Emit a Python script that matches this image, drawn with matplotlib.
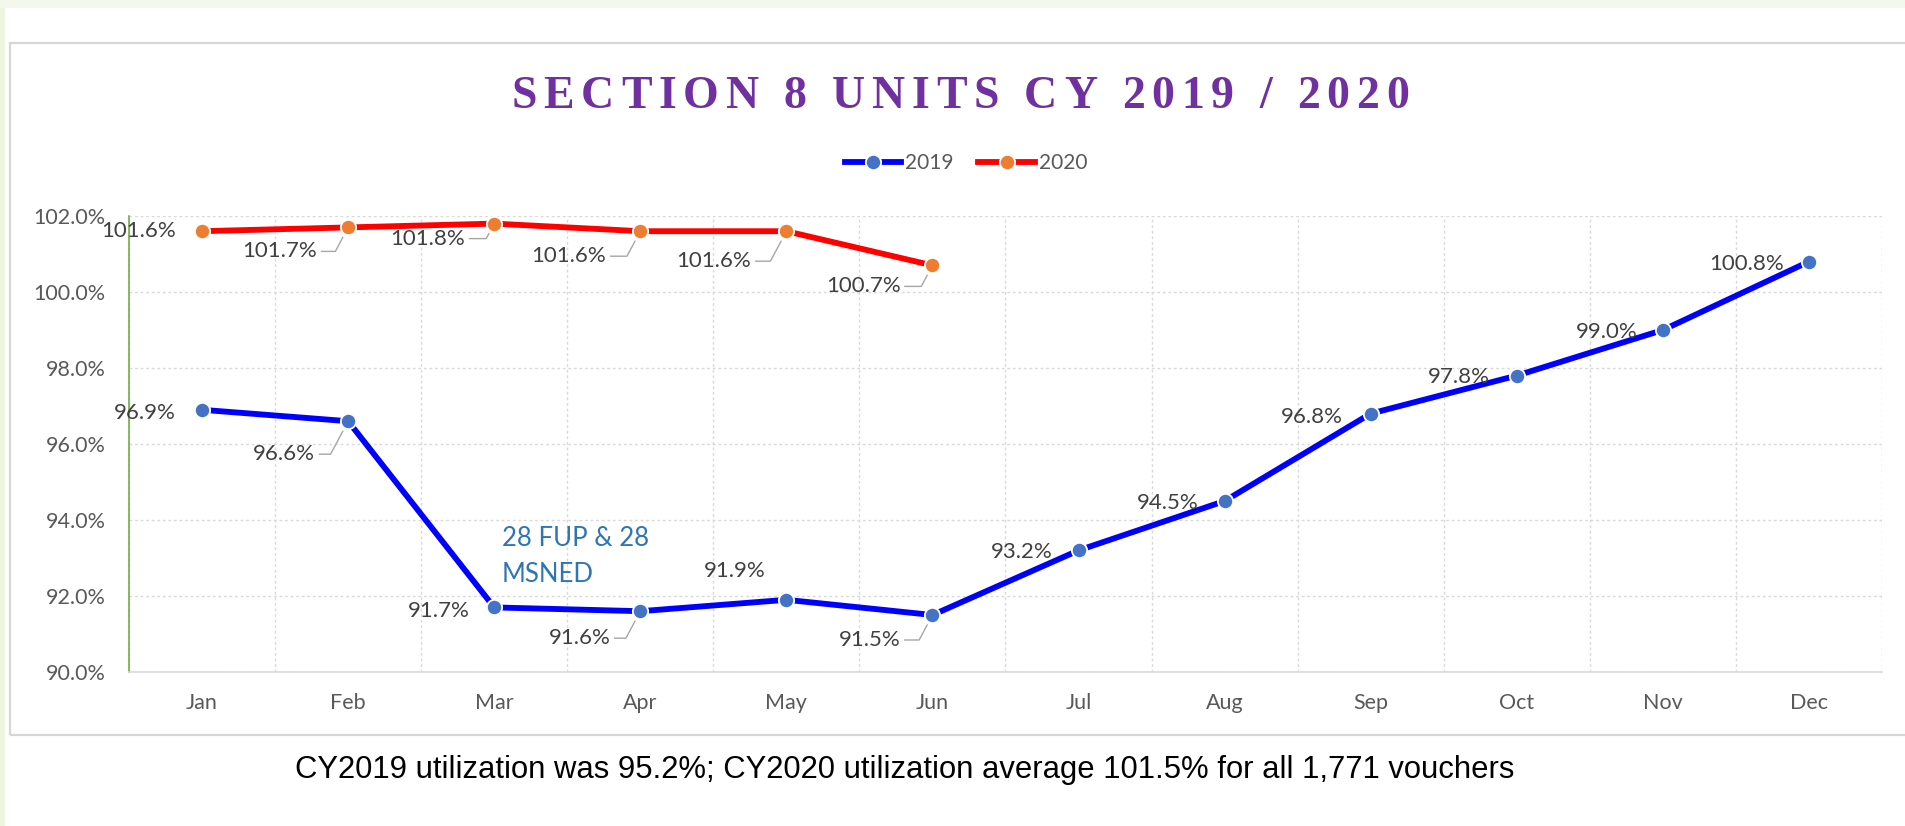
import numpy as np
import matplotlib
matplotlib.use("Agg")
import matplotlib.pyplot as plt
from matplotlib.patches import Rectangle

plt.rcParams["font.family"] = ["Lato", "DejaVu Sans"]

# data
months = ["Jan", "Feb", "Mar", "Apr", "May", "Jun",
          "Jul", "Aug", "Sep", "Oct", "Nov", "Dec"]
util_2019 = [96.9, 96.6, 91.7, 91.6, 91.9, 91.5, 93.2, 94.5, 96.8, 97.8, 99.0, 100.8]
util_2020 = [101.6, 101.7, 101.8, 101.6, 101.6, 100.7]
y_ticks = [90, 92, 94, 96, 98, 100, 102]

title_text = "SECTION 8 UNITS CY 2019 / 2020"
note_text = "28 FUP & 28\nMSNED"
caption = ("CY2019 utilization was 95.2%; CY2020 utilization average 101.5% "
           "for all 1,771 vouchers")

# label placement (pixels: dx to right edge of label, dy downwards, leader line?)
offsets_2019 = [(-26, 3, False), (-33, 33, True), (-24, 4, False), (-30, 27, True),
                (-21, -29, False), (-32, 25, True), (-26, 2, False), (-26, 2, False),
                (-28, 3, False), (-27, 1, False), (-25, 2, False), (-25, 2, False)]
offsets_2020 = [(-26, 0, False), (-31, 24, True), (-29, 15, True), (-34, 25, True),
                (-35, 30, True), (-32, 21, True)]

W, H = 1906, 826
fig = plt.figure(figsize=(W / 100, H / 100), dpi=100)
fig.patch.set_facecolor("white")

# page strips and chart frame
fig.patches.append(Rectangle((0, 0), 5 / W, 1, transform=fig.transFigure,
                             facecolor="#eef5de", edgecolor="none", zorder=0))
fig.patches.append(Rectangle((0, 1 - 8 / H), 1, 8 / H, transform=fig.transFigure,
                             facecolor="#f4f8ec", edgecolor="none", zorder=0))
fig.patches.append(Rectangle((10 / W, 1 - 735 / H), 1.0, (735 - 43) / H,
                             transform=fig.transFigure, facecolor="none",
                             edgecolor="#d6d6d6", lw=1.6, zorder=1))

left, right, top, bottom = 129, 1882, 216, 672
ax = fig.add_axes([left / W, 1 - bottom / H, (right - left) / W, (bottom - top) / H])

x = np.arange(len(months))
ax.plot(x, util_2019, color="#0000ff", lw=4.2, marker="o", ms=11,
        mfc="#4472c4", mec="white", mew=1.3, label="2019", zorder=4)
ax.plot(x[:len(util_2020)], util_2020, color="#ff0000", lw=4.2, marker="o", ms=11,
        mfc="#ed7d31", mec="white", mew=1.3, label="2020", zorder=4)

ax.set_xlim(-0.5, len(months) - 0.5)
ax.set_ylim(90, 102)
ax.set_xticks(x)
ax.set_xticklabels(months)
ax.set_xticks(np.arange(-0.5, len(months)), minor=True)
ax.set_yticks(y_ticks)
ax.set_yticklabels([f"{v:.1f}%" for v in y_ticks])
ax.tick_params(axis="both", which="both", length=0, labelsize=15.5, labelcolor="#595959")
ax.tick_params(axis="x", pad=15)
ax.tick_params(axis="y", pad=17)
ax.grid(axis="y", which="major", color="#d9d9d9", lw=1, ls=(0, (2, 2)))
ax.grid(axis="x", which="minor", color="#d9d9d9", lw=1, ls=(0, (2, 2)))
ax.set_axisbelow(True)
for s in ["top", "right"]:
    ax.spines[s].set_visible(False)
ax.spines["left"].set_color("#70ad47")
ax.spines["left"].set_linewidth(1.2)
ax.spines["bottom"].set_color("#d9d9d9")
ax.spines["bottom"].set_linewidth(1.2)


def add_labels(values, offsets):
    for i, (v, (dx, dy, leader)) in enumerate(zip(values, offsets)):
        arrow = None
        if leader:
            arrow = dict(arrowstyle="-", color="#a6a6a6", lw=1, relpos=(1, 0.5),
                         connectionstyle="angle,angleA=0,angleB=62,rad=0",
                         shrinkA=1, shrinkB=8)
        ax.annotate(f"{v:.1f}%", xy=(i, v), xytext=(dx, -dy),
                    textcoords="offset pixels", ha="right", va="center",
                    fontsize=16, color="#404040", arrowprops=arrow, zorder=5)


add_labels(util_2019, offsets_2019)
add_labels(util_2020, offsets_2020)

ax.text(2.05, 93.05, note_text, fontsize=18.5, color="#2e75b6", ha="left",
        va="center", linespacing=1.55)

# legend
fig.legend(loc="center", bbox_to_anchor=(966 / W, 1 - 163 / H), ncol=2,
           frameon=False, fontsize=15, handlelength=2.7, handletextpad=0.2,
           columnspacing=1.2, labelcolor="#595959")

# letter-spaced title
renderer = fig.canvas.get_renderer()
title_size = 33
spacing = 6.8
advances = []
for ch in title_text:
    if ch == " ":
        advances.append(0.25 * title_size * 100 / 72)
        continue
    t = fig.text(0, 0, ch, fontsize=title_size, family="Liberation Serif", weight="bold")
    advances.append(t.get_window_extent(renderer).width)
    t.remove()
total = sum(advances) + spacing * (len(title_text) - 1)
xpos = 960 - total / 2
for ch, adv in zip(title_text, advances):
    if ch != " ":
        fig.text(xpos / W, 1 - 108 / H, ch, fontsize=title_size,
                 family="Liberation Serif", weight="bold", color="#7030a0",
                 ha="left", va="baseline")
    xpos += adv + spacing

fig.text(905 / W, 1 - 770 / H, caption, ha="center", va="center",
         fontsize=22.3, family="Liberation Sans", color="black")

fig.savefig("out.png", dpi=100, facecolor=fig.get_facecolor())
